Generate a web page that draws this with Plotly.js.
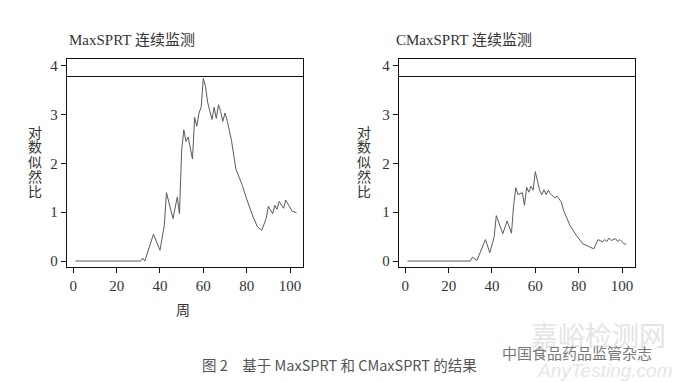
<!DOCTYPE html>
<html>
<head>
<meta charset="utf-8">
<script src="https://cdn.plot.ly/plotly-3.0.1.min.js"></script>
<style>html,body{margin:0;padding:0;background:#fff;}#chart{width:680px;height:382px;}</style>
</head>
<body>
<div id="chart"></div>
<script>
// MaxSPRT log-likelihood ratio by week
const weeksMax = [1, 31, 32, 33, 37, 40, 42, 43, 46, 48, 49, 50, 51, 52, 53, 55, 56, 57, 58, 59, 60, 61, 62, 64, 65, 66, 67, 68, 69, 70, 71, 73, 75, 78, 80, 83, 85, 87, 89, 90, 92, 93, 94, 95, 97, 98, 101, 103];
const llrMax   = [0, 0, 0.06, 0, 0.55, 0.22, 0.73, 1.40, 0.87, 1.31, 0.97, 2.26, 2.69, 2.45, 2.54, 2.09, 2.94, 2.76, 3.03, 3.15, 3.74, 3.58, 3.25, 2.90, 3.15, 2.92, 3.20, 3.06, 2.86, 3.03, 2.88, 2.47, 1.89, 1.55, 1.27, 0.90, 0.70, 0.63, 0.87, 1.12, 0.97, 1.14, 1.06, 1.22, 1.08, 1.25, 1.02, 0.99];
// CMaxSPRT log-likelihood ratio by week
const weeksCMax = [1, 30, 31, 33, 37, 39, 41, 42, 45, 47, 49, 50, 51, 52, 54, 55, 56, 57, 58, 59, 60, 61, 62, 63, 64, 65, 66, 67, 69, 70, 72, 73, 76, 79, 82, 85, 87, 88, 89, 91, 92, 93, 94, 95, 97, 98, 99, 101, 102];
const llrCMax   = [0, 0, 0.08, 0.01, 0.44, 0.17, 0.49, 0.93, 0.56, 0.82, 0.57, 1.14, 1.50, 1.36, 1.40, 1.14, 1.51, 1.41, 1.53, 1.45, 1.83, 1.63, 1.45, 1.36, 1.46, 1.36, 1.45, 1.38, 1.29, 1.33, 1.21, 1.04, 0.73, 0.52, 0.35, 0.29, 0.25, 0.35, 0.44, 0.39, 0.44, 0.40, 0.47, 0.42, 0.46, 0.40, 0.44, 0.35, 0.35];
// critical value
const criticalValue = 3.78;
const xTicks = [0, 20, 40, 60, 80, 100];
const yTicks = [0, 1, 2, 3, 4];
const titles = ["MaxSPRT 连续监测", "CMaxSPRT 连续监测"];
const yTitleChars = ["对", "数", "似", "然", "比"];
const xTitle = "周";
const caption = "图 2　基于 MaxSPRT 和 CMaxSPRT 的结果";
const journal = "中国食品药品监管杂志";
const watermark = ["嘉峪检测网", "AnyTesting.com"];

const W = 680, H = 382;
const serif = "Liberation Serif, 'Noto Sans CJK SC', serif";
const px = v => v / W, py = v => 1 - v / H;

const lineStyle = {color: '#5a5a5a', width: 1};
const critStyle = {color: '#111', width: 1.1};
const xr = [-2.9, 106];

const traces = [
  {x: weeksMax, y: llrMax, mode: 'lines', line: lineStyle, xaxis: 'x', yaxis: 'y', hoverinfo: 'none'},
  {x: xr, y: [criticalValue, criticalValue], mode: 'lines', line: critStyle, xaxis: 'x', yaxis: 'y', hoverinfo: 'none'},
  {x: weeksCMax, y: llrCMax, mode: 'lines', line: lineStyle, xaxis: 'x2', yaxis: 'y2', hoverinfo: 'none'},
  {x: xr, y: [criticalValue, criticalValue], mode: 'lines', line: critStyle, xaxis: 'x2', yaxis: 'y2', hoverinfo: 'none'}
];

const axBase = {
  showline: true, mirror: true, linecolor: '#111', linewidth: 1.2,
  ticks: 'outside', ticklen: 5, tickcolor: '#111', tickwidth: 1,
  showgrid: false, zeroline: false,
  tickfont: {family: serif, size: 15, color: '#333'}
};
const xAx = (anchor, dom) => Object.assign({}, axBase, {domain: dom, anchor: anchor, range: xr, tickmode: 'array', tickvals: xTicks, ticktext: xTicks.map(String)});
const yAx = (anchor) => Object.assign({}, axBase, {domain: [py(267), py(59)], anchor: anchor, range: [-0.122, 4.137], tickmode: 'array', tickvals: yTicks, ticktext: yTicks.map(String)});

const ann = [
  {text: titles[0], x: px(67), y: py(40), xanchor: 'left', yanchor: 'middle', font: {family: serif, size: 15, color: '#333'}},
  {text: titles[1], x: px(394), y: py(40), xanchor: 'left', yanchor: 'middle', font: {family: serif, size: 15, color: '#333'}},
  {text: xTitle, x: px(183), y: py(310), xanchor: 'center', yanchor: 'middle', font: {family: serif, size: 14, color: '#333'}},
  {text: caption, x: px(200), y: py(364), xanchor: 'left', yanchor: 'middle', font: {family: "'Noto Sans CJK SC', sans-serif", size: 14.5, color: '#555'}},
  {text: watermark[0], x: px(598), y: py(334), xanchor: 'center', yanchor: 'middle', font: {family: "'Noto Sans CJK SC', sans-serif", size: 27, color: '#e4e4e4'}},
  {text: "<i>" + watermark[1] + "</i>", x: px(604), y: py(370), xanchor: 'center', yanchor: 'middle', font: {family: "Liberation Sans, sans-serif", size: 19, color: '#e6e6e6'}},
  {text: journal, x: px(577), y: py(352), xanchor: 'center', yanchor: 'middle', font: {family: "'Noto Sans CJK SC', sans-serif", size: 15, color: '#777'}}
];
[35, 364].forEach(cx => {
  yTitleChars.forEach((ch, i) => {
    ann.push({text: ch, x: px(cx), y: py(133 + i * 14.8), xanchor: 'center', yanchor: 'middle', font: {family: serif, size: 14, color: '#333'}});
  });
});
ann.forEach(a => Object.assign(a, {xref: 'paper', yref: 'paper', showarrow: false}));

const layout = {
  width: W, height: H,
  margin: {l: 0, r: 0, t: 0, b: 0},
  paper_bgcolor: '#fff', plot_bgcolor: '#fff',
  showlegend: false,
  xaxis: xAx('y', [px(67), px(303)]),
  yaxis: yAx('x'),
  xaxis2: xAx('y2', [px(399), px(635)]),
  yaxis2: yAx('x2'),
  annotations: ann
};

Plotly.newPlot('chart', traces, layout, {displayModeBar: false, staticPlot: true});
</script>
</body>
</html>
